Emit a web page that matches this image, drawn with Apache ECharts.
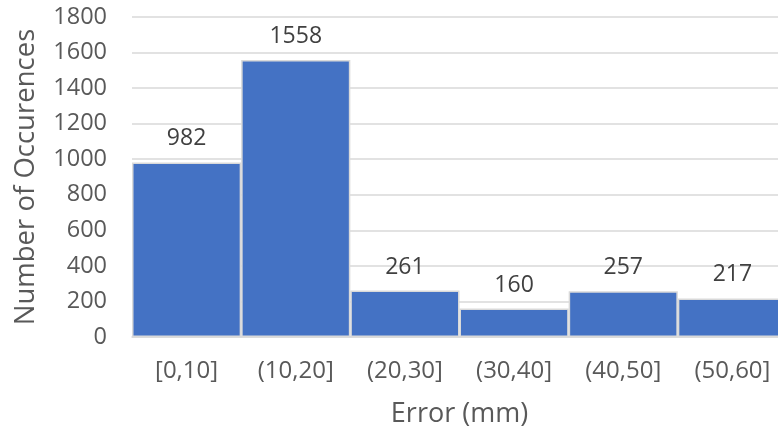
<!DOCTYPE html>
<html>
<head>
<meta charset="utf-8">
<script src="https://cdn.jsdelivr.net/npm/echarts@6/dist/echarts.min.js"></script>
<style>
  html, body { margin: 0; padding: 0; background: #fff; }
  #chart { width: 778px; height: 434px; }
</style>
</head>
<body>
<div id="chart"></div>
<script>
// Histogram of error bins and their counts
const categories = ['[0,10]', '(10,20]', '(20,30]', '(30,40]', '(40,50]', '(50,60]'];
const counts = [982, 1558, 261, 160, 257, 217];

const FONT = 'Open Sans';
const chart = echarts.init(document.getElementById('chart'), null, { renderer: 'canvas' });

chart.setOption({
  animation: false,
  textStyle: { fontFamily: FONT },
  grid: { left: 132, top: 17, width: 655, height: 320, containLabel: false, outerBoundsMode: 'none' },
  xAxis: {
    type: 'category',
    data: categories,
    name: 'Error (mm)',
    nameLocation: 'middle',
    nameGap: 64,
    nameTextStyle: { fontFamily: FONT, fontSize: 27, color: '#595959' },
    axisLine: { show: true, lineStyle: { color: '#d9d9d9', width: 1.5 } },
    axisTick: { show: false },
    axisLabel: { fontFamily: FONT, fontSize: 24, color: '#595959', margin: 22 }
  },
  yAxis: {
    type: 'value',
    min: 0,
    max: 1800,
    interval: 200,
    name: 'Number of Occurences',
    nameLocation: 'middle',
    nameGap: 92,
    nameTextStyle: { fontFamily: FONT, fontSize: 27.5, color: '#595959' },
    axisLine: { show: false },
    axisTick: { show: false },
    axisLabel: {
      fontFamily: FONT, fontSize: 23.5, color: '#595959', margin: 25,
      formatter: (v) => String(v)
    },
    splitLine: { lineStyle: { color: '#d9d9d9', width: 1.5 } }
  },
  series: [{
    type: 'bar',
    data: counts,
    barCategoryGap: '0%',
    itemStyle: { color: '#4472C4', borderColor: '#d9d9d9', borderWidth: 1.5 },
    label: {
      show: true,
      position: 'top',
      distance: 12,
      fontFamily: FONT,
      fontSize: 23,
      color: '#404040'
    }
  }]
});
</script>
</body>
</html>
